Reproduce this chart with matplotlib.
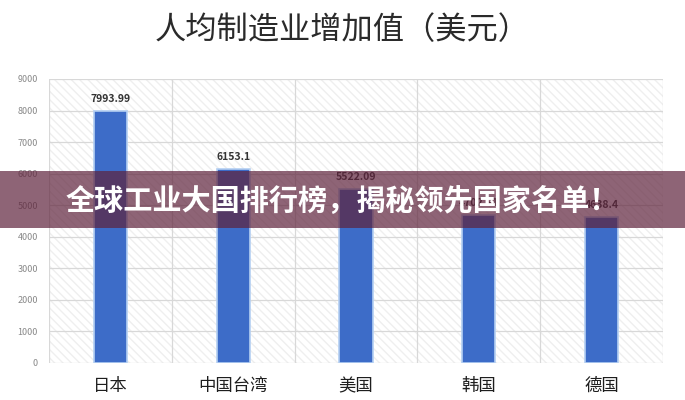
import matplotlib.pyplot as plt
from matplotlib.patches import Rectangle

plt.rcParams['font.family'] = ['Noto Sans CJK SC', 'DejaVu Sans']

# data
regions = ['日本', '中国台湾', '美国', '韩国', '德国']
values = [7993.99, 6153.1, 5522.09, 4702.21, 4638.4]
labels = ['7993.99', '6153.1', '5522.09', '4702.21', '4638.4']
yticks = [0, 1000, 2000, 3000, 4000, 5000, 6000, 7000, 8000, 9000]

title = '人均制造业增加值（美元）'
banner = '全球工业大国排行榜，揭秘领先国家名单！'

fig = plt.figure(figsize=(6.85, 4), dpi=100)
ax = fig.add_axes([0.0715, 0.0925, 0.8965, 0.71])

x = list(range(len(regions)))

# faint hatched background like the source chart
ax.add_patch(Rectangle((-0.5, 0), 5, 9000, facecolor='white', edgecolor='#efefef',
                       hatch='\\\\\\\\', linewidth=0, zorder=0))

ax.bar(x, values, width=0.27, color='#3d6cc8', edgecolor='#b4cff2', linewidth=1.2, zorder=3)
for xi, v, t in zip(x, values, labels):
    ax.text(xi, v + 220, t, ha='center', va='bottom', fontsize=7.5,
            fontweight='bold', color='#333333', zorder=4)

ax.set_xlim(-0.5, 4.5)
ax.set_ylim(0, 9000)
ax.set_yticks(yticks)
ax.set_yticklabels([str(t) for t in yticks], fontsize=6.5, color='#888888')
ax.set_xticks(x)
ax.set_xticklabels(regions, fontsize=12.5, color='#1e1e1e', fontweight='medium')
ax.tick_params(axis='both', length=0)
ax.tick_params(axis='x', pad=10)
ax.tick_params(axis='y', pad=8)

for v in [i - 0.5 for i in range(6)]:
    ax.axvline(v, color='#d8d8d8', linewidth=0.9, zorder=1)
for t in yticks:
    ax.axhline(t, color='#d8d8d8', linewidth=0.9, zorder=1)
for s in ax.spines.values():
    s.set_visible(False)

fig.text(0.5, 0.925, title, ha='center', va='center', fontsize=22.5, color='#2a2a2a')

# overlay banner
fig.patches.append(Rectangle((0, 0.43), 1, 0.1425, transform=fig.transFigure,
                             facecolor=(95/255, 35/255, 60/255), alpha=0.7,
                             edgecolor='none', zorder=10))
fig.text(0.5, 0.497, banner, ha='center', va='center', fontsize=21,
         fontweight='heavy', color='white', zorder=11)

fig.savefig('out.png', dpi=100)
